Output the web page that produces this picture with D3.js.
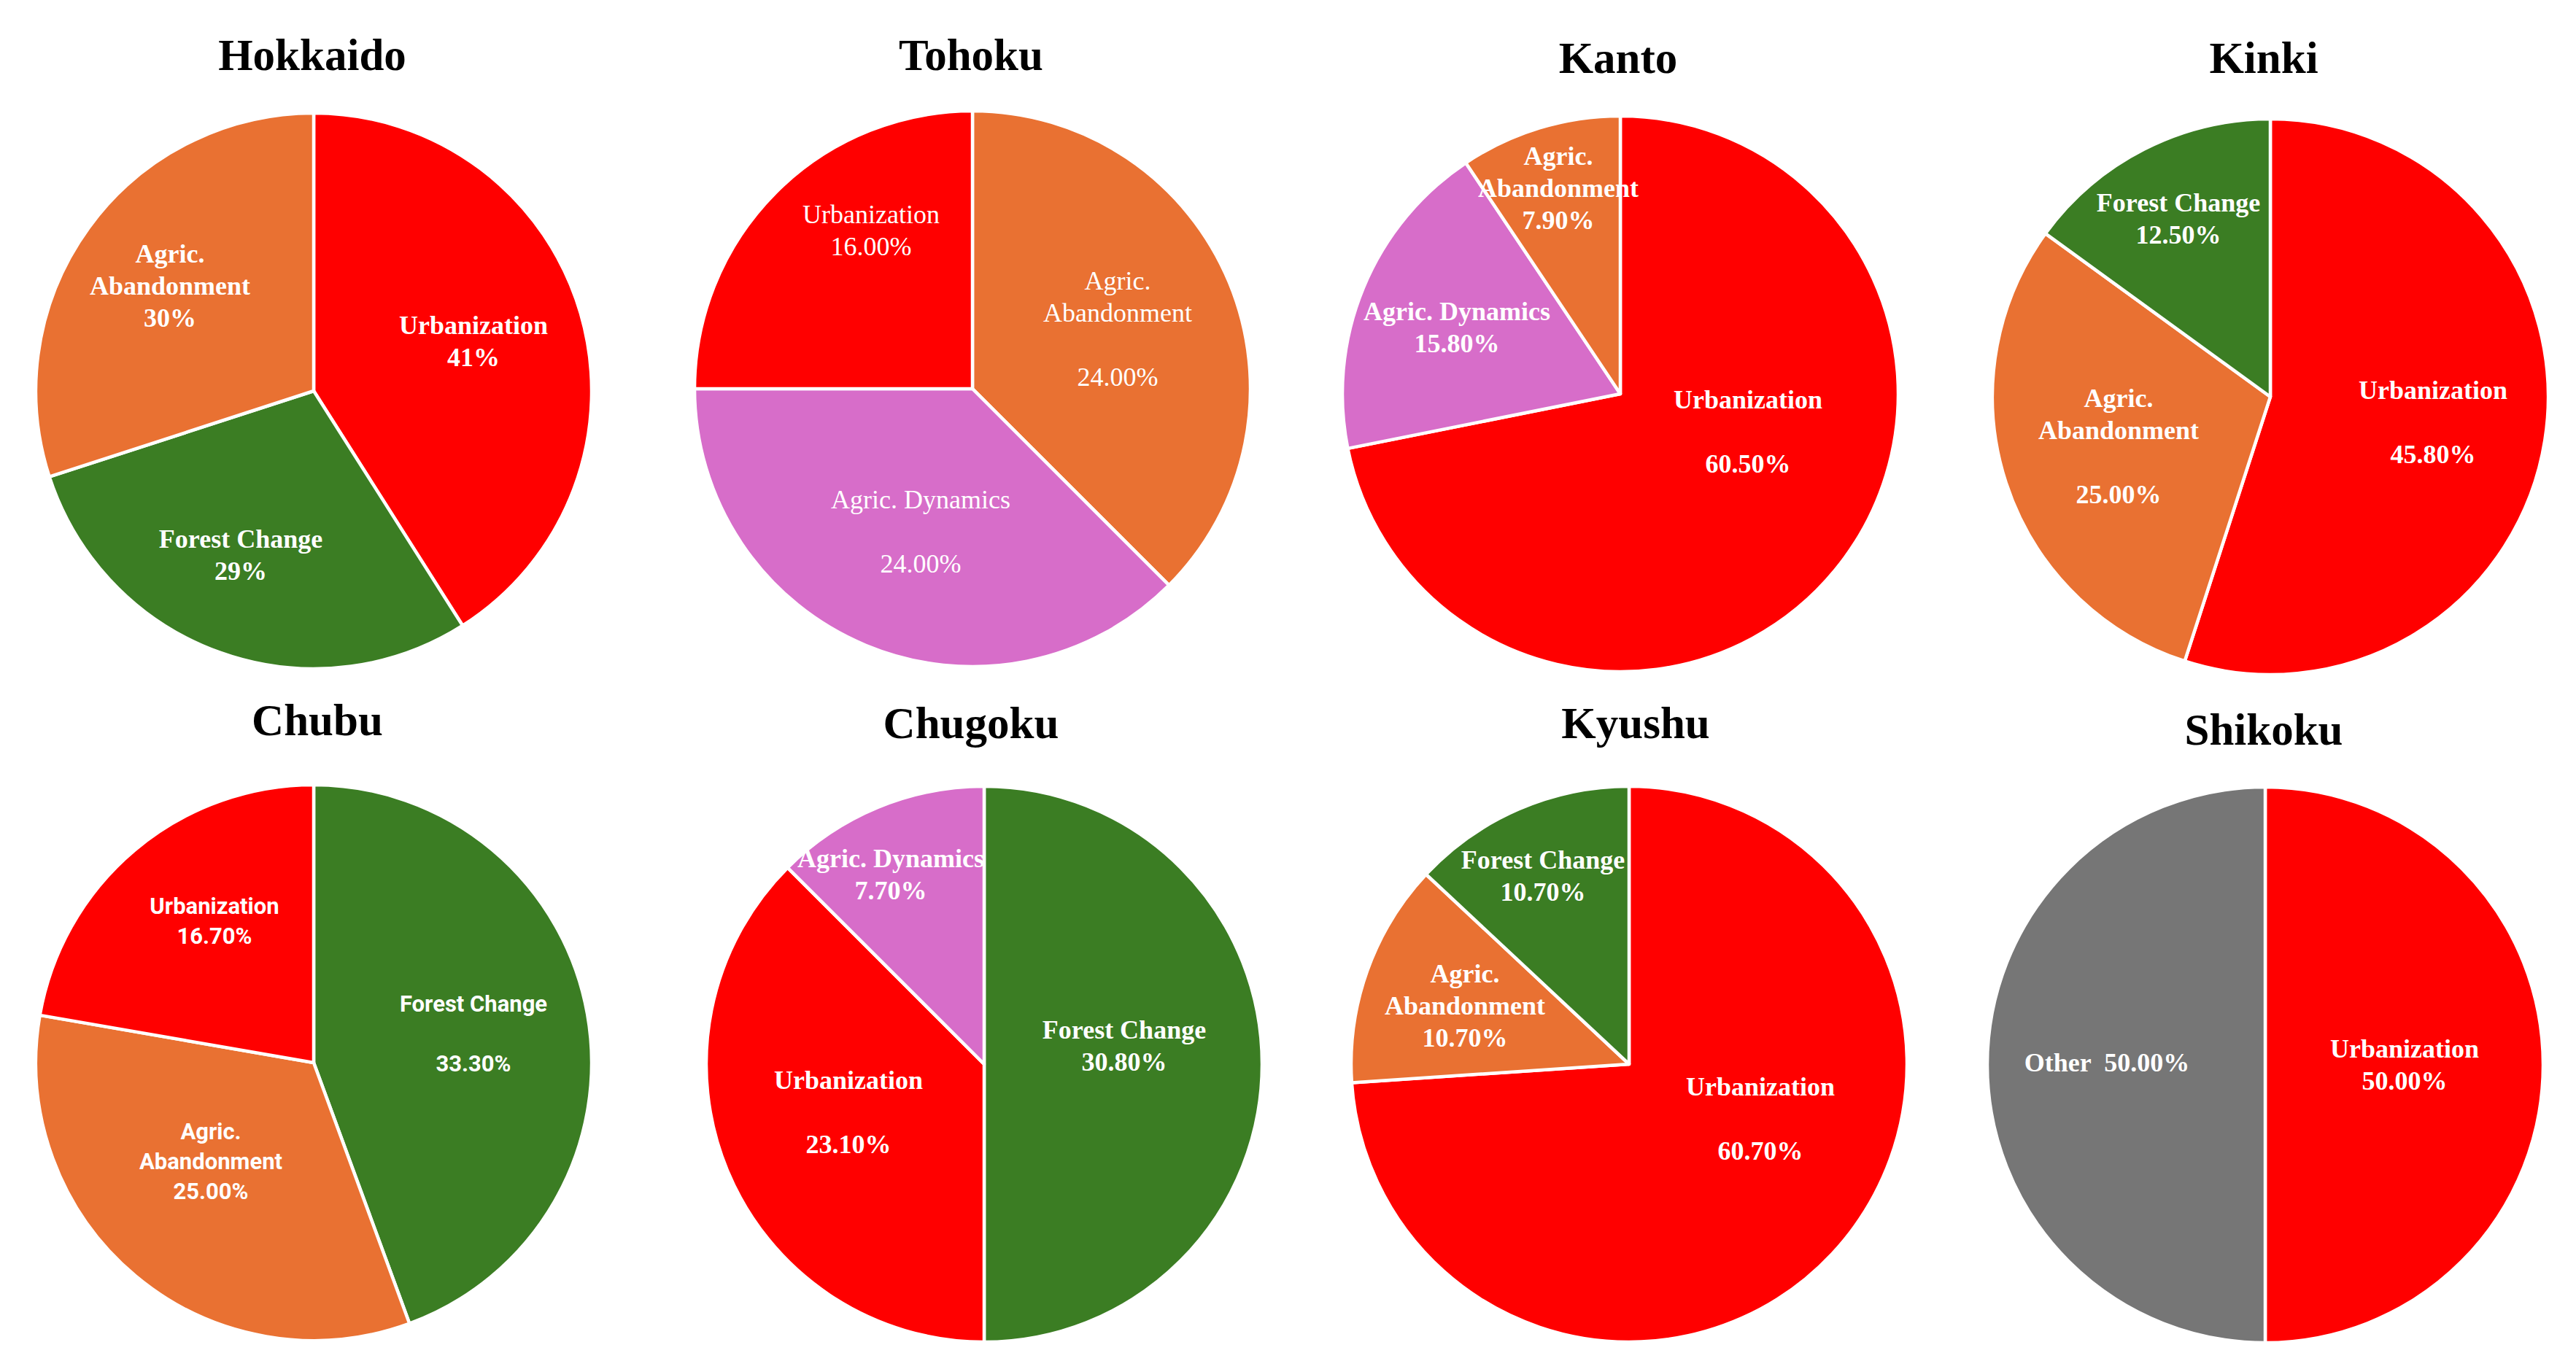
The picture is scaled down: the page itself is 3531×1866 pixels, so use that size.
<!DOCTYPE html>
<html>
<head>
<meta charset="utf-8">
<script src="https://cdn.jsdelivr.net/npm/d3@7"></script>
<style>
  html, body { margin: 0; padding: 0; background: #fff; }
  text { white-space: pre; }
</style>
</head>
<body>
<div id="chart"></div>
<script>
// data
const regions = ['Hokkaido', 'Tohoku', 'Kanto', 'Kinki', 'Chubu', 'Chugoku', 'Kyushu', 'Shikoku'];
const sliceNames = [
  ['Urbanization', 'Forest Change', 'Agric. Abandonment'],
  ['Agric. Abandonment', 'Agric. Dynamics', 'Urbanization'],
  ['Urbanization', 'Agric. Dynamics', 'Agric. Abandonment'],
  ['Urbanization', 'Agric. Abandonment', 'Forest Change'],
  ['Forest Change', 'Agric. Abandonment', 'Urbanization'],
  ['Forest Change', 'Urbanization', 'Agric. Dynamics'],
  ['Urbanization', 'Agric. Abandonment', 'Forest Change'],
  ['Urbanization', 'Other'],
];
const sliceValues = [
  [41, 29, 30],
  [24, 24, 16],
  [60.5, 15.8, 7.9],
  [45.8, 25, 12.5],
  [33.3, 25, 16.7],
  [30.8, 23.1, 7.7],
  [60.7, 10.7, 10.7],
  [50, 50],
];
const valueDecimals = [0, 2, 2, 2, 2, 2, 2, 2];
const categories = ['Urbanization', 'Agric. Abandonment', 'Forest Change', 'Agric. Dynamics', 'Other'];
const categoryColors = ['#FF0000', '#E97132', '#3B7D23', '#D76DC9', '#767676'];

// layout
const WIDTH = 3531;
const HEIGHT = 1866;
const RADIUS = 381;
const centers = [[430, 536], [1333, 533], [2221, 540], [3112, 544], [430, 1457], [1349, 1459], [2233, 1459], [3105, 1460]];
const titlePos = [[428, 96], [1331, 96], [2218, 100], [3103, 100], [435, 1008], [1331, 1012], [2242, 1012], [3103, 1021]];
const labelFont = ['serifBold', 'serif', 'serifBold', 'serifBold', 'sans', 'serifBold', 'serifBold', 'serifBold'];
// label block centre relative to pie centre, and whether a blank line sits before the value
const labelLayout = [
  [[219, -68, 0], [-100, 225, 0], [-197, -144, 0]],
  [[199, -82, 1], [-71, 196, 1], [-139, -217, 0]],
  [[175, 52, 1], [-224, -91, 0], [-85, -282, 0]],
  [[223, 35, 1], [-208, 68, 1], [-126, -244, 0]],
  [[219, -40, 1], [-141, 135, 0], [-136, -195, 0]],
  [[192, -25, 0], [-186, 66, 1], [-128, -260, 0]],
  [[180, 75, 1], [-225, -80, 0], [-118, -258, 0]],
  [[191, 0, 0], [-217, -3, -1]],
];

const fonts = {
  serifBold: { family: '"Liberation Serif", "Times New Roman", serif', weight: 700, size: 36, lh: 44, cap: 24 },
  serif: { family: '"Liberation Serif", "Times New Roman", serif', weight: 400, size: 36, lh: 44, cap: 24 },
  sans: { family: 'Roboto, "Open Sans", sans-serif', weight: 700, size: 31, lh: 41, cap: 22 },
};

const color = d3.scaleOrdinal().domain(categories).range(categoryColors);
const pie = d3.pie().sort(null).value(d => d.value);
const arc = d3.arc().innerRadius(0).outerRadius(RADIUS);

const $svg = d3
  .select('#chart')
  .append('svg')
  .attr('width', WIDTH)
  .attr('height', HEIGHT)
  .style('background', '#fff');

function labelLines(name, value, dec, gap) {
  const v = `${d3.format(`.${dec}f`)(value)}%`;
  if (gap < 0) return [`${name}  ${v}`];
  const nameLines = name === 'Agric. Abandonment' ? ['Agric.', 'Abandonment'] : [name];
  return gap ? [...nameLines, '', v] : [...nameLines, v];
}

regions.forEach((region, i) => {
  const data = sliceNames[i].map((name, j) => ({ name, value: sliceValues[i][j] }));
  const $g = $svg.append('g').attr('transform', `translate(${centers[i][0]}, ${centers[i][1]})`);

  $g.selectAll('.slice')
    .data(pie(data))
    .join('path')
    .attr('class', 'slice')
    .attr('d', arc)
    .attr('fill', d => color(d.data.name))
    .attr('stroke', '#fff')
    .attr('stroke-width', 4.5)
    .attr('stroke-linejoin', 'round');

  const f = fonts[labelFont[i]];
  data.forEach((d, j) => {
    const [dx, dy, gap] = labelLayout[i][j];
    const lines = labelLines(d.name, d.value, valueDecimals[i], gap);
    const y0 = dy - ((lines.length - 1) * f.lh - f.cap) / 2;
    const $t = $g.append('text')
      .attr('text-anchor', 'middle')
      .attr('fill', '#fff')
      .style('font-family', f.family)
      .style('font-weight', f.weight)
      .style('font-size', `${f.size}px`);
    lines.forEach((line, k) => {
      $t.append('tspan').attr('x', dx).attr('y', y0 + k * f.lh).text(line);
    });
  });

  $svg.append('text')
    .attr('x', titlePos[i][0])
    .attr('y', titlePos[i][1])
    .attr('text-anchor', 'middle')
    .attr('fill', '#000')
    .style('font-family', '"Liberation Serif", "Times New Roman", serif')
    .style('font-weight', 700)
    .style('font-size', '61px')
    .text(region);
});
</script>
</body>
</html>
